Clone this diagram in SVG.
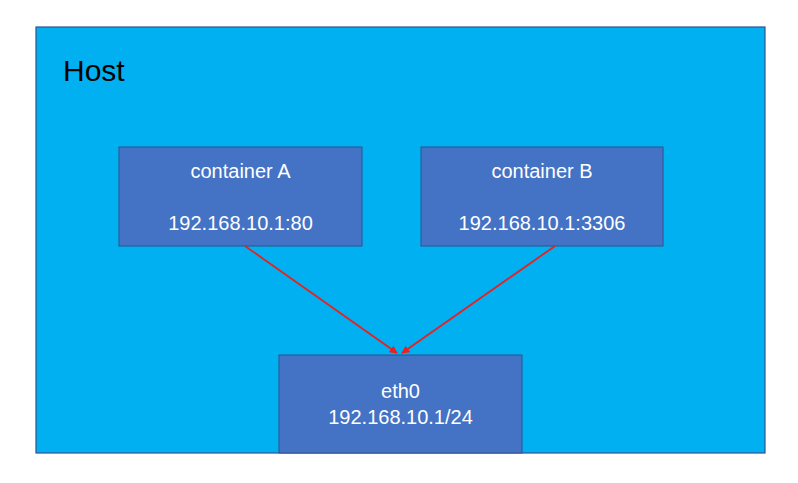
<svg xmlns="http://www.w3.org/2000/svg" width="798" height="483" viewBox="0 0 798 483">
<defs>
<style>
.host{fill:#00B0F0;stroke:#2F528F;stroke-width:1.2}
.box{fill:#4472C4;stroke:#2F528F;stroke-width:1}
.t{font-family:"Liberation Sans",Arial,sans-serif;fill:#FFFFFF;font-size:20px;text-anchor:middle}
.h{font-family:"Liberation Sans",Arial,sans-serif;fill:#000000;font-size:30px}
.edge{stroke:#EA2020;stroke-width:1.8;fill:none;marker-end:url(#ah)}
</style>
<marker id="ah" viewBox="0 0 10 10" refX="9" refY="5" markerWidth="4.5" markerHeight="4.5" orient="auto" markerUnits="strokeWidth">
<path d="M0,0 L10,5 L0,10 z" fill="#EA2020"/>
</marker>
</defs>
<rect width="798" height="483" fill="#FFFFFF"/>
<g id="host">
<rect class="host" x="36" y="27" width="729" height="426"/>
<text class="h" x="63" y="81">Host</text>
</g>
<g id="containerA">
<rect class="box" x="119" y="147" width="243" height="99"/>
<text class="t" x="240.5" y="178">container A</text>
<text class="t" x="240.5" y="230">192.168.10.1:80</text>
</g>
<g id="containerB">
<rect class="box" x="421" y="147" width="242" height="99"/>
<text class="t" x="542" y="178">container B</text>
<text class="t" x="542" y="230">192.168.10.1:3306</text>
</g>
<g id="eth0">
<rect class="box" x="279" y="355" width="243" height="98"/>
<text class="t" x="400.5" y="398">eth0</text>
<text class="t" x="400.5" y="424">192.168.10.1/24</text>
</g>
<g id="connectors">
<line class="edge" x1="245" y1="246" x2="397" y2="353"/>
<line class="edge" x1="555" y1="246" x2="402" y2="353"/>
</g>
</svg>
